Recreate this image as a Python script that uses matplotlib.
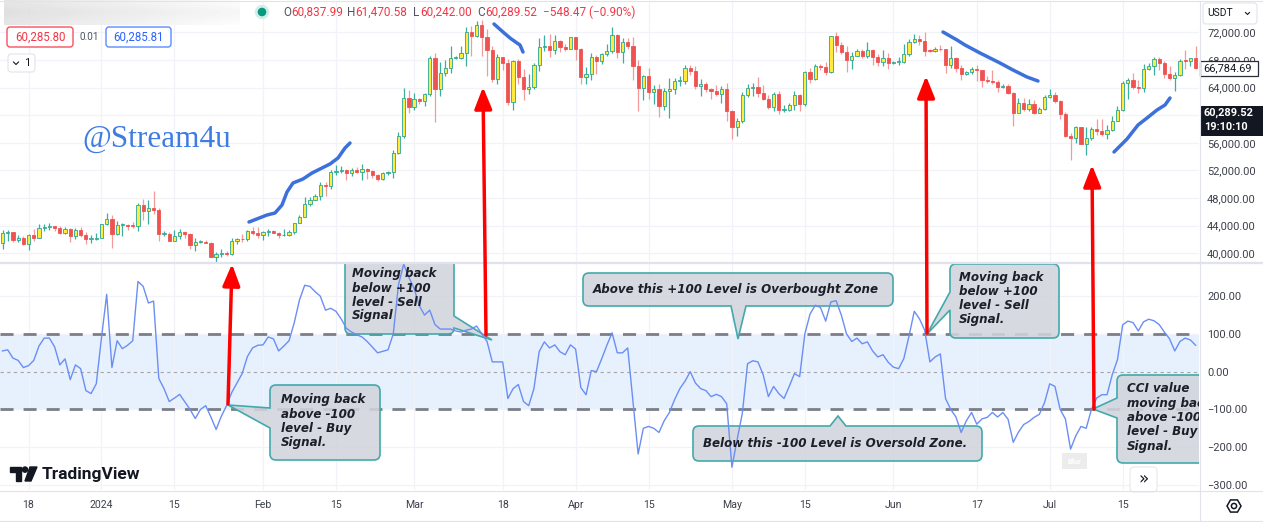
import numpy as np
import pandas as pd
import matplotlib
matplotlib.use("Agg")
import matplotlib.pyplot as plt
from matplotlib.patches import Rectangle, FancyBboxPatch, PathPatch, Circle, RegularPolygon, Polygon
from matplotlib.path import Path
from matplotlib.transforms import Affine2D
from matplotlib.ticker import FuncFormatter

plt.rcParams["font.family"] = ["Roboto", "DejaVu Sans"]

# ── data (BTC/USDT daily, thousands USDT) ────────────────────────────────────
DATES = pd.date_range("2023-12-13", "2024-07-29", freq="D")
FIRST_OPEN_K = 41.49

CLOSE_K = [
    # Dec 13-31
    42.90, 43.02, 41.94, 42.26, 41.37, 42.66, 42.26, 43.66, 43.86, 43.99, 43.73, 43.01, 43.58, 42.52, 43.44, 42.58, 42.07, 42.14, 42.28,
    # Jan
    44.18, 44.96, 42.85, 44.15, 44.16, 43.97, 43.93, 46.97, 46.11, 46.63, 46.34, 42.78, 42.84, 41.73, 42.51, 43.14, 42.74, 41.26, 41.62, 41.66,
    41.54, 39.50, 39.85, 40.08, 39.93, 41.81, 42.12, 42.03, 43.30, 42.94, 42.58,
    # Feb
    43.08, 43.19, 43.00, 42.58, 42.66, 43.09, 44.34, 45.29, 47.13, 47.75, 48.29, 49.96, 49.70, 51.82, 51.94, 52.13, 51.66, 52.12, 51.78, 52.26,
    51.85, 51.30, 50.73, 51.57, 51.73, 54.48, 57.04, 62.43, 61.13,
    # Mar
    62.39, 61.99, 63.11, 68.24, 63.72, 66.07, 66.85, 68.27, 68.35, 68.96, 72.10, 71.45, 73.07, 71.39, 69.50, 65.30, 68.39, 67.55, 61.91, 67.91,
    65.49, 63.78, 64.06, 67.21, 69.88, 69.99, 69.45, 70.78, 69.85, 69.58, 71.28,
    # Apr
    69.65, 65.46, 65.96, 68.49, 67.82, 68.90, 69.36, 71.62, 69.14, 70.59, 70.06, 67.19, 63.92, 65.66, 63.42, 63.81, 61.28, 63.47, 63.82, 64.94,
    64.94, 66.84, 66.41, 64.29, 64.50, 63.77, 63.46, 63.12, 63.84, 60.64,
    # May
    58.25, 59.12, 62.89, 63.89, 64.03, 63.16, 62.33, 61.19, 63.07, 60.79, 60.79, 61.45, 62.90, 61.55, 66.25, 65.23, 67.05, 66.94, 66.27, 71.45,
    70.14, 69.12, 67.93, 68.54, 69.29, 68.51, 69.39, 68.37, 67.64, 68.35, 67.49,
    # Jun
    67.70, 67.75, 68.80, 70.57, 71.08, 70.79, 69.35, 69.31, 69.65, 69.51, 67.32, 68.24, 66.76, 66.01, 66.19, 66.64, 66.49, 65.14, 64.96, 64.83,
    64.10, 64.25, 63.18, 60.28, 61.80, 60.86, 61.68, 60.32, 60.89, 62.68,
    # Jul 1-29
    62.85, 62.03, 60.20, 57.04, 56.66, 58.23, 55.85, 56.71, 58.05, 57.72, 57.34, 57.89, 59.20, 60.80, 64.72, 65.04, 64.09, 63.97, 66.70, 67.15,
    68.17, 67.55, 65.93, 65.37, 65.77, 67.91, 67.81, 68.25, 66.78,
]

HIGH_K = [
    43.43, 43.40, 43.09, 42.72, 42.44, 42.76, 43.49, 44.28, 44.24, 44.37, 43.80, 43.95, 43.80, 43.60, 43.68, 43.80, 43.12, 42.61, 42.90,
    44.18, 45.88, 45.50, 44.73, 44.34, 44.23, 44.50, 47.25, 47.90, 47.70, 48.97, 46.50, 43.26, 43.08, 43.40, 43.58, 43.20, 42.93, 42.20, 41.87,
    41.88, 41.70, 40.13, 40.55, 40.28, 42.23, 42.20, 42.84, 43.31, 43.88, 43.75,
    43.29, 43.49, 43.38, 43.12, 43.49, 43.42, 44.40, 45.60, 48.20, 48.16, 48.60, 50.33, 50.37, 52.04, 52.82, 52.57, 52.19, 52.35, 52.48, 52.95,
    52.37, 52.03, 51.54, 51.70, 51.95, 54.91, 57.58, 64.00, 63.68,
    63.23, 62.43, 63.23, 68.50, 69.00, 67.64, 67.98, 69.96, 68.59, 69.97, 72.79, 72.96, 73.65, 73.78, 72.42, 70.04, 68.92, 68.49, 68.12, 68.03,
    68.20, 66.65, 65.97, 67.62, 71.15, 71.56, 71.73, 71.55, 70.91, 70.35, 71.37,
    71.28, 69.67, 66.91, 69.00, 68.72, 69.00, 70.33, 72.80, 71.74, 71.17, 71.23, 71.26, 67.93, 65.84, 66.87, 64.36, 64.49, 64.00, 65.45, 65.39,
    65.72, 67.20, 67.23, 67.08, 65.30, 64.80, 63.92, 64.36, 64.23, 64.73,
    60.78, 59.60, 63.32, 64.49, 64.65, 65.50, 64.39, 62.98, 63.42, 63.46, 61.49, 61.82, 63.45, 63.10, 66.44, 66.81, 67.45, 67.40, 67.70, 71.52,
    71.98, 70.62, 70.04, 69.22, 69.56, 69.51, 70.61, 69.56, 68.91, 69.50, 69.01,
    67.86, 68.44, 70.29, 71.06, 71.76, 71.63, 71.99, 69.56, 69.86, 70.15, 69.56, 70.00, 68.45, 67.32, 66.40, 66.98, 67.27, 66.10, 65.73, 66.48,
    65.04, 64.52, 64.52, 63.37, 62.44, 62.48, 62.29, 62.17, 61.20, 62.89,
    63.86, 63.29, 62.18, 60.48, 57.49, 58.47, 58.23, 58.23, 58.30, 59.47, 59.38, 58.56, 59.81, 61.38, 64.90, 65.38, 66.13, 65.10, 67.45, 67.61,
    68.37, 68.47, 67.80, 67.10, 66.18, 68.20, 69.40, 68.32, 70.08,
]

LOW_K = [
    40.67, 41.77, 41.66, 41.68, 41.25, 40.53, 41.80, 42.21, 43.30, 43.42, 43.30, 42.76, 42.74, 41.63, 42.10, 42.30, 41.30, 41.52, 41.97,
    42.18, 44.15, 40.75, 42.63, 42.50, 43.40, 43.62, 43.18, 44.75, 44.30, 45.62, 41.76, 42.44, 41.72, 41.72, 42.05, 42.19, 40.68, 40.28, 41.44,
    41.45, 39.43, 38.55, 39.48, 39.55, 39.82, 41.39, 41.62, 41.80, 42.68, 42.28,
    41.88, 42.57, 42.89, 42.26, 42.55, 42.57, 42.79, 44.33, 45.24, 46.80, 47.69, 47.71, 48.30, 49.25, 51.32, 51.63, 50.63, 51.17, 51.68, 50.62,
    50.83, 50.91, 50.52, 50.59, 51.28, 50.90, 54.45, 56.69, 60.36,
    60.78, 61.60, 61.32, 62.82, 59.01, 62.80, 65.68, 66.05, 68.07, 68.10, 67.19, 68.62, 71.33, 68.56, 65.63, 64.78, 64.53, 66.60, 61.50, 60.76,
    64.53, 62.26, 63.04, 63.79, 66.39, 69.28, 68.38, 68.90, 69.09, 69.33, 69.57,
    68.06, 64.49, 64.49, 65.06, 66.01, 67.45, 68.53, 69.04, 68.21, 67.52, 69.57, 65.09, 60.66, 62.13, 62.27, 61.62, 59.77, 60.80, 59.60, 63.09,
    64.28, 64.51, 65.75, 63.77, 62.79, 63.30, 62.40, 62.80, 61.81, 59.19,
    56.55, 56.94, 58.80, 62.58, 62.83, 62.70, 62.26, 60.88, 60.65, 60.19, 60.49, 60.63, 60.76, 60.65, 61.32, 64.60, 65.12, 66.60, 65.86, 66.06,
    69.16, 68.87, 66.30, 66.62, 68.50, 68.24, 68.23, 67.28, 67.11, 67.12, 66.67,
    67.39, 67.25, 67.61, 68.55, 70.39, 70.12, 68.50, 69.21, 69.13, 69.23, 66.05, 66.90, 66.30, 65.08, 65.85, 66.03, 64.98, 64.07, 64.69, 64.50,
    63.38, 63.94, 63.12, 58.40, 60.26, 60.65, 60.56, 60.13, 60.32, 60.77,
    62.50, 61.78, 59.42, 56.77, 53.49, 56.02, 55.79, 54.26, 56.46, 57.16, 57.02, 56.55, 57.74, 59.20, 60.64, 62.40, 63.83, 63.20, 63.30, 66.55,
    65.79, 66.57, 65.44, 65.10, 63.46, 65.73, 66.68, 67.09, 66.68,
]

CCI = [
    55, 58, 36, 30, 11, 16, 30, 68, 89, 89, 66, 18, 34, -21, 18, 8, -50, -58, -32,
    90, 205, 11, 82, 61, 70, 82, 239, 226, 182, 187, -18, -45, -79, -70, -60, -80, -100, -124, -100,
    -90, -120, -153, -118, -90, -55, -30, -5, 40, 63, 70,
    71, 92, 87, 55, 68, 82, 130, 190, 229, 226, 212, 200, 163, 168, 160, 140, 115, 105, 98, 92,
    80, 65, 50, 54, 58, 100, 230, 285, 250,
    220, 175, 150, 163, 125, 113, 113, 113, 108, 105, 110, 113, 121, 100, 80, 26, 26, 26, -71, -45,
    -34, -79, -90, -45, 53, 79, 63, 71, 53, 45, 71,
    60, -42, -61, 3, 0, 34, 70, 103, 50, 50, 63, -79, -218, -150, -145, -150, -161, -130, -108, -74,
    -45, -25, 0, -30, -45, -50, -66, -60, -66, -85,
    -253, -180, -110, 21, 29, 26, -8, -66, -39, -58, -71, -39, -5, -13, 100, 153, 176, 170, 134, 185,
    188, 150, 100, 80, 89, 74, 79, 55, 39, 45, 25,
    12, 8, 35, 95, 160, 140, 110, 26, 39, 47, -71, -100, -120, -161, -130, -108, -139, -125, -121, -108,
    -120, -108, -126, -187, -160, -140, -132, -121, -113, -82,
    -32, -39, -100, -125, -205, -170, -145, -150, -100, -70, -61, -61, -8, 32, 124, 134, 130, 108, 132, 139,
    135, 125, 105, 87, 55, 80, 89, 84, 70,
]

TICK_DATES = ["2023-12-18", "2024-01-01", "2024-01-15", "2024-02-01", "2024-02-15", "2024-03-01",
              "2024-03-18", "2024-04-01", "2024-04-15", "2024-05-01", "2024-05-15", "2024-06-01",
              "2024-06-17", "2024-07-01", "2024-07-15"]
TICK_LABELS = ["18", "2024", "15", "Feb", "15", "Mar", "18", "Apr", "15", "May", "15", "Jun", "17", "Jul", "15"]
PRICE_TICKS = [40000, 44000, 48000, 52000, 56000, 60000, 64000, 68000, 72000]
HIDDEN_PRICE_LABELS = [60000]   # covered by the live-price tag on the scale
CCI_TICKS = [200, 100, 0, -100, -200, -300]
LAST_PRICE = 66784.69
LIVE_PRICE = 60289.52

# ── style ─────────────────────────────────────────────────────────────────────
UP_BODY, UP_EDGE, UP_WICK = "#ffeb3b", "#26a69a", "#3cae9e"
DN_BODY, DN_WICK = "#ef5350", "#f59a9c"
GRID = "#f1f3f8"
AXCOL = "#3d404a"
SEP = "#e0e3eb"
BOX_FACE = (0.82, 0.83, 0.86, 0.88)
BOX_EDGE = "#43a9ac"
W, H = 1263, 522


def frac(x0, y0, x1, y1):
    return [x0 / W, 1 - y1 / H, (x1 - x0) / W, (y1 - y0) / H]


fig = plt.figure(figsize=(W / 100, H / 100), dpi=100)
fig.patch.set_facecolor("white")
ax_p = fig.add_axes(frac(0, 2, 1199, 262))
ax_c = fig.add_axes(frac(0, 264, 1199, 490), sharex=ax_p)

x = (DATES - pd.Timestamp("2024-01-01")).days.to_numpy().astype(float)
close = np.array(CLOSE_K) * 1000
high = np.array(HIGH_K) * 1000
low = np.array(LOW_K) * 1000
open_ = np.r_[FIRST_OPEN_K * 1000, close[:-1]]
up = close >= open_
top = np.maximum(open_, close)
bot = np.minimum(open_, close)
hi = np.maximum(high, top)
lo = np.minimum(low, bot)
body = np.maximum(top - bot, 110)

# ── price pane ────────────────────────────────────────────────────────────────
ax_p.vlines(x[up], lo[up], hi[up], color=UP_WICK, lw=0.9, zorder=2)
ax_p.vlines(x[~up], lo[~up], hi[~up], color=DN_WICK, lw=0.9, zorder=2)
ax_p.bar(x[up], body[up], bottom=bot[up], width=0.62, color=UP_BODY,
         edgecolor=UP_EDGE, lw=0.6, zorder=3)
ax_p.bar(x[~up], body[~up], bottom=bot[~up], width=0.62, color=DN_BODY,
         edgecolor=DN_BODY, lw=0.6, zorder=3)

tick_x = (pd.to_datetime(TICK_DATES) - pd.Timestamp("2024-01-01")).days.to_numpy()
for ax in (ax_p, ax_c):
    for s in ax.spines.values():
        s.set_visible(False)
    ax.set_xticks(tick_x)
    ax.grid(True, color=GRID, lw=0.9, zorder=0)
    ax.yaxis.tick_right()
    ax.tick_params(axis="y", length=0, pad=5.8, labelsize=7.9, labelcolor=AXCOL)
ax_p.set_xlim(-19.48, 210.65)
ax_p.set_ylim(38740, 76388)
ax_p.set_yticks(PRICE_TICKS)
ax_p.yaxis.set_major_formatter(
    FuncFormatter(lambda v, _: "" if v in HIDDEN_PRICE_LABELS else f"{v:,.2f}"))
ax_p.tick_params(axis="x", length=0, labelbottom=False)

# ── CCI pane ──────────────────────────────────────────────────────────────────
ax_c.axhspan(-100, 100, color="#e6f1fd", lw=0, zorder=0.5)
ax_c.axhline(100, color="#7b7e88", lw=2.0, dashes=(4.7, 3.6), zorder=2)
ax_c.axhline(-100, color="#7b7e88", lw=2.0, dashes=(4.7, 3.6), zorder=2)
ax_c.axhline(0, color="#a3a6ae", lw=0.8, dashes=(3, 3), zorder=2)
ax_c.plot(x, CCI, color="#6b8ef5", lw=1.0, zorder=6)
ax_c.set_ylim(-313.4, 285.3)
ax_c.set_yticks(CCI_TICKS)
ax_c.yaxis.set_major_formatter(FuncFormatter(lambda v, _: f"{v:.2f}".replace("-", "\u2212")))
ax_c.set_xticklabels(TICK_LABELS)
ax_c.tick_params(axis="x", length=0, pad=7, labelsize=7.6, labelcolor=AXCOL)

# pixel transform (y down) for annotations drawn inside the CCI pane
PIX = Affine2D().scale(1, -1).translate(0, H)


def callout(x0, y0, x1, y1, side, base, tip, r=6):
    b0, b1 = base
    v, c = [], []

    def L(p):
        v.append(p); c.append(Path.LINETO)

    def Q(k, p):
        v.extend([k, p]); c.extend([Path.CURVE3, Path.CURVE3])

    v.append((x0 + r, y0)); c.append(Path.MOVETO)
    if side == "top":
        L((b0, y0)); L(tip); L((b1, y0))
    L((x1 - r, y0)); Q((x1, y0), (x1, y0 + r))
    if side == "right":
        L((x1, b0)); L(tip); L((x1, b1))
    L((x1, y1 - r)); Q((x1, y1), (x1 - r, y1))
    if side == "bottom":
        L((b1, y1)); L(tip); L((b0, y1))
    L((x0 + r, y1)); Q((x0, y1), (x0, y1 - r))
    if side == "left":
        L((x0, b1)); L(tip); L((x0, b0))
    L((x0, y0 + r)); Q((x0, y0), (x0 + r, y0))
    v.append((x0 + r, y0)); c.append(Path.CLOSEPOLY)
    ax_c.add_patch(PathPatch(Path(v, c), facecolor=BOX_FACE, edgecolor=BOX_EDGE,
                             lw=1.2, transform=PIX, zorder=5))


def box_text(tx, ty, lines, step=14.3):
    for i, s in enumerate(lines):
        ax_c.text(tx, ty + i * step, s, transform=PIX, family="DejaVu Sans",
                  weight="bold", style="italic", size=8.6, color="#1c1f28",
                  va="center", ha="left", clip_on=True, zorder=8)


callout(345, 240, 454, 334, "right", (316, 328), (492, 340))
box_text(352, 274, ["Moving back", "below +100", "level - Sell", "Signal"], step=14)
callout(583, 273, 893, 306, "bottom", (731, 746), (738, 339))
box_text(593, 289.5, ["Above this +100 Level is Overbought Zone"])
callout(950, 264, 1059, 338, "left", (292, 310), (927, 334))
box_text(959, 277, ["Moving back", "below +100", "level - Sell", "Signal."])
callout(270, 385, 380, 460, "left", (408, 428), (228, 405))
box_text(281, 400, ["Moving back", "above -100", "level - Buy", "Signal."])
callout(693, 426, 982, 461, "top", (830, 846), (838, 416))
box_text(703, 443.5, ["Below this -100 Level is Oversold Zone."])
callout(1117, 375, 1250, 463, "left", (398, 418), (1093, 409))
box_text(1127, 389, ["CCI value", "moving back", "above -100", "level - Buy", "Signal."])

# ── overlay in pixel coordinates ─────────────────────────────────────────────
ov = fig.add_axes([0, 0, 1, 1], zorder=10)
ov.set_xlim(0, W)
ov.set_ylim(H, 0)
ov.axis("off")
ov.patch.set_visible(False)

# pane separators
ov.plot([0, W], [263, 263], color=SEP, lw=1.6)
ov.plot([0, W], [490.5, 490.5], color=SEP, lw=0.8)
ov.plot([0, W], [520.5, 520.5], color=SEP, lw=0.8)
ov.plot([0, W], [1, 1], color=SEP, lw=0.8)
ov.plot([1199.5, 1199.5], [1, 520], color=SEP, lw=0.8)

# hand-drawn trend strokes
STROKES = [
    [(249, 222), (267, 215), (275, 213), (282, 205), (287, 192), (293, 183), (303, 179),
     (312, 173), (320, 169), (330, 164), (338, 158), (345, 148), (350, 143)],
    [(494, 24), (503, 32), (510, 38), (517, 43), (520, 45), (523, 52)],
    [(943, 32), (957, 40), (965, 45), (980, 53), (988, 57), (1000, 63), (1013, 70),
     (1027, 77), (1038, 81)],
    [(1114, 152), (1127, 139), (1138, 125), (1147, 118), (1157, 110), (1165, 105), (1170, 98)],
]
for st in STROKES:
    sx, sy = zip(*st)
    ov.plot(sx, sy, color="#3c71dc", lw=2.5, solid_capstyle="round", solid_joinstyle="round")

# red signal arrows
for tail, tip in [((228, 404), (232, 264)), ((486, 335), (483, 87)),
                  ((927, 333), (926, 76)), ((1094, 409), (1092, 165))]:
    ov.annotate("", xy=tip, xytext=tail,
                arrowprops=dict(arrowstyle="-|>,head_length=0.55,head_width=0.22",
                                color="#ff0000", lw=2.5, mutation_scale=24,
                                shrinkA=0, shrinkB=0))

# watermark
ov.text(82, 147, "@Stream4u", family="Liberation Serif", size=22.5, color="#3d7ce2",
        va="baseline", ha="left")

# top-left legend (blurred symbol area + OHLC)
grad = np.linspace(0.86, 0.96, 64)[None, :] * np.ones((8, 1))
grad = grad + np.abs(np.linspace(-1, 1, 8))[:, None] * 0.03
ov.imshow(grad, cmap="gray", vmin=0, vmax=1, extent=(4, 240, 25, 0), aspect="auto",
          interpolation="bicubic", alpha=0.9)
ov.add_patch(Circle((262, 12), 6.5, color="#d3eee8"))
ov.add_patch(Circle((262, 12), 3.6, color="#089981"))
RED = "#f23645"
for s, xx, col in [("O", 283, "#50535e"), ("60,837.99", 291, RED), ("H", 347, "#50535e"),
                   ("61,470.58", 355, RED), ("L", 413, "#50535e"), ("60,242.00", 420, RED),
                   ("C", 477, "#50535e"), ("60,289.52", 485, RED),
                   ("\u2212548.47 (\u22120.90%)", 543, RED)]:
    ov.text(xx, 12.5, s, size=8.5, color=col, va="center", ha="left")

ov.add_patch(FancyBboxPatch((7, 27), 66, 20, boxstyle="round,pad=0,rounding_size=3",
                            fc="white", ec="#f7525f", lw=1.0))
ov.text(40, 37.5, "60,285.80", size=8.3, color=RED, ha="center", va="center")
ov.text(89, 37.5, "0.01", size=7.2, color="#50535e", ha="center", va="center")
ov.add_patch(FancyBboxPatch((106, 27), 65, 20, boxstyle="round,pad=0,rounding_size=3",
                            fc="white", ec="#5b8cff", lw=1.0))
ov.text(138.5, 37.5, "60,285.81", size=8.3, color="#2962ff", ha="center", va="center")
ov.add_patch(FancyBboxPatch((8, 54), 27, 18, boxstyle="round,pad=0,rounding_size=3",
                            fc="white", ec=SEP, lw=0.8))
ov.plot([13.5, 16, 18.5], [62, 64.5, 62], color="#131722", lw=0.8)
ov.text(27.5, 63, "1", size=8, color="#131722", ha="center", va="center")

# right price-scale widgets
ov.add_patch(FancyBboxPatch((1203, 3), 54, 21, boxstyle="round,pad=0,rounding_size=3",
                            fc="white", ec=SEP, lw=0.8))
ov.text(1207, 13.5, "USDT", size=7.4, color="#131722", va="center", ha="left")
ov.plot([1245.5, 1247.5, 1249.5], [12.5, 14.5, 12.5], color="#131722", lw=0.8)


def price_y(p):
    return ov.transData.inverted().transform(ax_p.transData.transform((0, p)))[1]


yl = price_y(LAST_PRICE)
ov.add_patch(Rectangle((1200, yl - 7.5), 58, 15, fc="white", ec="#2a2e39", lw=0.9))
ov.text(1203, yl, f"{LAST_PRICE:,.2f}", size=7.9, color="#131722", va="center", ha="left")
yk = price_y(LIVE_PRICE)
ov.add_patch(Rectangle((1200, yk - 7.5), 63, 30, fc="#131722", ec="none"))
ov.text(1204, yk, f"{LIVE_PRICE:,.2f}", size=7.9, color="white", weight="bold",
        va="center", ha="left")
ov.text(1204, yk + 14, "19:10:10", size=7.9, color="white", weight="bold",
        va="center", ha="left")

# TradingView logo
ov.add_patch(Polygon([(10, 467), (21, 467), (21, 481), (16, 481), (16, 472), (10, 472)],
                     closed=True, color="#131722"))
ov.add_patch(Circle((25, 469.6), 2.6, color="#131722"))
ov.add_patch(Polygon([(30, 467), (37, 467), (31, 481), (25, 481)], closed=True, color="#131722"))
ov.text(42, 474.5, "TradingView", size=12.5, weight="bold", color="#131722",
        va="center", ha="left")

# small chart widgets
ov.add_patch(Rectangle((1062, 453), 25, 16, fc="#ececec", ec="none"))
ov.text(1074.5, 461, "Blur", size=5.5, color="white", weight="bold", ha="center", va="center")
ov.add_patch(FancyBboxPatch((1130, 467), 27, 25, boxstyle="round,pad=0,rounding_size=4",
                            fc="white", ec="#e6e8ee", lw=0.8))
ov.text(1143.5, 479, "\u00bb", size=12, color="#131722", ha="center", va="center",
        family="DejaVu Sans")
ov.add_patch(RegularPolygon((1234, 506), 6, radius=7, orientation=np.pi / 6,
                            fc="none", ec="#131722", lw=1.1))
ov.add_patch(Circle((1234, 506), 2.6, fc="none", ec="#131722", lw=1.1))

fig.savefig("out.png", dpi=100, facecolor="white")
